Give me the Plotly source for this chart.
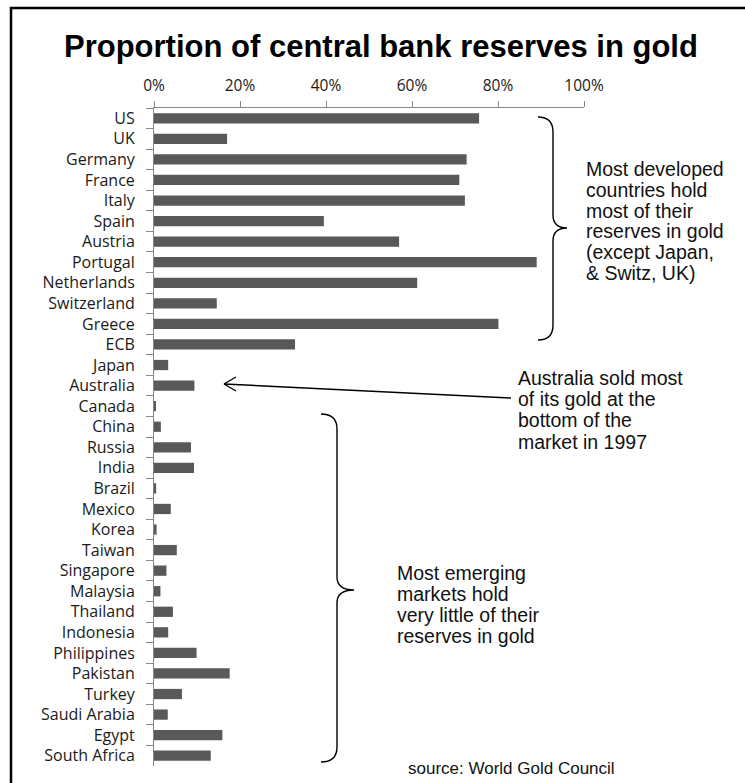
import plotly.graph_objects as go

# Share of each central bank's reserves held in gold (%)
countries = [
    "US", "UK", "Germany", "France", "Italy", "Spain", "Austria", "Portugal",
    "Netherlands", "Switzerland", "Greece", "ECB", "Japan", "Australia",
    "Canada", "China", "Russia", "India", "Brazil", "Mexico", "Korea",
    "Taiwan", "Singapore", "Malaysia", "Thailand", "Indonesia", "Philippines",
    "Pakistan", "Turkey", "Saudi Arabia", "Egypt", "South Africa",
]
gold_share = [
    75.6, 17.0, 72.7, 71.0, 72.3, 39.5, 57.0, 89.0,
    61.2, 14.6, 80.1, 32.8, 3.3, 9.4,
    0.3, 1.6, 8.6, 9.3, 0.5, 3.9, 0.6,
    5.3, 2.9, 1.5, 4.4, 3.3, 9.9,
    17.6, 6.5, 3.2, 15.9, 13.2,
]
x_ticks = [0, 20, 40, 60, 80, 100]
x_tick_labels = ["0%", "20%", "40%", "60%", "80%", "100%"]

title_text = "Proportion of central bank reserves in gold"
developed_note = ["Most developed", "countries hold", "most of their",
                  "reserves in gold", "(except Japan,", "& Switz, UK)"]
australia_note = ["Australia sold most", "of its gold at the",
                  "bottom of the", "market in 1997"]
emerging_note = ["Most emerging", "markets hold", "very little of their",
                 "reserves in gold"]
source_text = "source: World Gold Council"

W, H = 745, 783
M_L, M_R, M_T, M_B = 154, 161, 108, 17
PW, PH = W - M_L - M_R, H - M_T - M_B


def px(x):
    """Pixel x -> paper x."""
    return (x - M_L) / PW


def py(y):
    """Pixel y (from top) -> paper y."""
    return (H - M_B - y) / PH


fig = go.Figure(
    go.Bar(
        x=gold_share,
        y=countries,
        orientation="h",
        marker=dict(color="#595959", line=dict(width=0)),
        hoverinfo="x+y",
    )
)

axis_grey = "#868686"

fig.update_layout(
    width=W,
    height=H,
    margin=dict(l=M_L, r=M_R, t=M_T, b=M_B, pad=0),
    paper_bgcolor="white",
    plot_bgcolor="white",
    showlegend=False,
    bargap=0.5,
    xaxis=dict(
        side="top",
        range=[0, 100],
        tickmode="array",
        tickvals=x_ticks,
        ticktext=x_tick_labels,
        showgrid=False,
        zeroline=False,
        showline=True,
        linecolor=axis_grey,
        linewidth=1,
        ticks="outside",
        ticklen=6,
        tickcolor=axis_grey,
        tickfont=dict(family="Open Sans", size=15.5, color="#1a1a1a"),
        ticklabelstandoff=4,
        fixedrange=True,
    ),
    yaxis=dict(
        categoryorder="array",
        categoryarray=countries,
        autorange="reversed",
        showgrid=False,
        zeroline=False,
        showline=True,
        linecolor=axis_grey,
        linewidth=1,
        ticks="outside",
        tickson="boundaries",
        ticklen=7,
        tickcolor=axis_grey,
        tickfont=dict(family="Open Sans", size=16, color="#1a1a1a"),
        ticklabelstandoff=15,
        fixedrange=True,
    ),
)

annotations = []
note_font = dict(family="Liberation Sans", size=19.5, color="#111111")


def add_lines(lines, x_left, y_first, step, font):
    for i, line in enumerate(lines):
        annotations.append(dict(
            x=px(x_left), y=py(y_first + i * step), xref="paper", yref="paper",
            text=line, showarrow=False, xanchor="left", yanchor="middle",
            font=font,
        ))


annotations.append(dict(
    x=px(381), y=py(46), xref="paper", yref="paper", text=f"<b>{title_text}</b>",
    showarrow=False, xanchor="center", yanchor="middle",
    font=dict(family="Liberation Sans", size=31, color="black"),
))
add_lines(developed_note, 584, 169, 20.8, note_font)
add_lines(australia_note, 516, 378, 21.2, note_font)
add_lines(emerging_note, 395, 573, 21.0, note_font)
add_lines([source_text], 406, 768, 0,
          dict(family="Liberation Sans", size=17, color="#111111"))

shapes = []
line_black = dict(color="black", width=1.4)


def brace(x_end, x_spine, x_tip, y_top, y_mid, y_bot, r=15, rt=13):
    p = (
        f"M {px(x_end)},{py(y_top)} "
        f"Q {px(x_spine)},{py(y_top)} {px(x_spine)},{py(y_top + r)} "
        f"L {px(x_spine)},{py(y_mid - rt)} "
        f"Q {px(x_spine)},{py(y_mid)} {px(x_tip)},{py(y_mid)} "
        f"Q {px(x_spine)},{py(y_mid)} {px(x_spine)},{py(y_mid + rt)} "
        f"L {px(x_spine)},{py(y_bot - r)} "
        f"Q {px(x_spine)},{py(y_bot)} {px(x_end)},{py(y_bot)}"
    )
    shapes.append(dict(type="path", path=p, xref="paper", yref="paper",
                       line=line_black))


brace(538, 553, 567, 117, 228, 340)
brace(321, 337, 354, 414, 590, 762)

# Arrow pointing at the Australia bar, drawn with an open head
tip = (224, 384)
tail = (511, 398)
for (x0, y0), (x1, y1) in [(tail, tip), (tip, (236, 377)), (tip, (236, 391))]:
    shapes.append(dict(type="line", xref="paper", yref="paper",
                       x0=px(x0), y0=py(y0), x1=px(x1), y1=py(y1),
                       line=line_black))

# Frame around the figure
frame = dict(color="black", width=2.5)
shapes.append(dict(type="line", xref="paper", yref="paper",
                   x0=px(11), y0=py(7), x1=px(11), y1=py(H + 10), line=frame))
shapes.append(dict(type="line", xref="paper", yref="paper",
                   x0=px(10), y0=py(8), x1=px(W + 10), y1=py(8), line=frame))

fig.update_layout(annotations=annotations, shapes=shapes)

fig.write_html("out.html")
